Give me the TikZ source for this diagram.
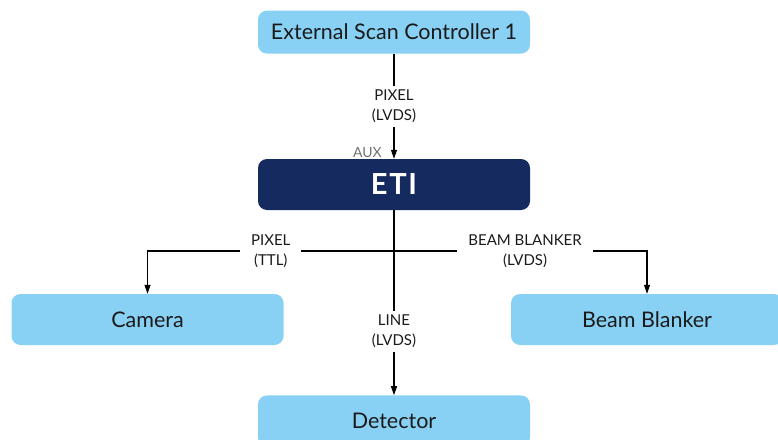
\documentclass[tikz,border=0pt]{standalone}
\usepackage{fontspec}
\setmainfont{Lato}
\usetikzlibrary{arrows.meta, positioning}
\definecolor{ETINavy}{HTML}{152A5E}
\definecolor{ETISky}{HTML}{89D1F4}
\definecolor{ETIInk}{HTML}{1A1A1A}
\definecolor{ETIGray}{HTML}{707070}

\begin{document}
\begin{tikzpicture}[
  x=1pt, y=-1pt,
  >={Triangle[length=9pt,width=6pt]},
  unit/.style={rectangle, rounded corners=9pt, fill=ETISky, text=ETIInk,
               minimum width=272pt, minimum height=51pt, inner sep=0pt,
               font=\fontsize{21.5}{24}\selectfont},
  core/.style={unit, fill=ETINavy, text=white,
               font=\fontsize{29}{30}\selectfont\bfseries\addfontfeature{LetterSpace=6}},
  sig/.style={fill=white, text=ETIInk, align=center, inner xsep=11pt,
              inner ysep=4pt, font=\fontsize{15}{20}\selectfont},
  port/.style={text=ETIGray, font=\fontsize{14}{16}\selectfont, inner sep=0pt},
  arr/.style={->, draw=black, line width=1.1pt},
]
\clip (0,0) rectangle (778,439);

% --- boxes ---
\node[core] (eti) at (394,184.5) {ETI};
\node[unit, minimum height=43pt, above=105pt of eti] (esc) {External Scan Controller 1};
\node[unit] (cam) at (147.5,319.5) {Camera};
\node[unit] (blank) at (647,319.5) {Beam Blanker};
\node[unit, below=185pt of eti] (det) {Detector};

% --- hub where the horizontal bus leaves the spine ---
\coordinate (hub) at (394,251);

% --- connectors ---
\draw[arr] (esc) -- node[sig] {PIXEL\\(LVDS)} (eti);
\draw[arr] (eti) -- node[sig, pos=0.655] {LINE\\(LVDS)} (det);
\draw[arr] (hub) -- node[sig, pos=0.5] {PIXEL\\(TTL)} (hub -| cam.north) -- (cam.north);
\draw[arr] (hub) -- node[sig, pos=0.518] {BEAM BLANKER\\(LVDS)} (hub -| blank.north) -- (blank.north);

\node[port, anchor=south east] (aux) at ([xshift=-12pt, yshift=1pt]eti.north) {AUX};

\end{tikzpicture}
\end{document}
